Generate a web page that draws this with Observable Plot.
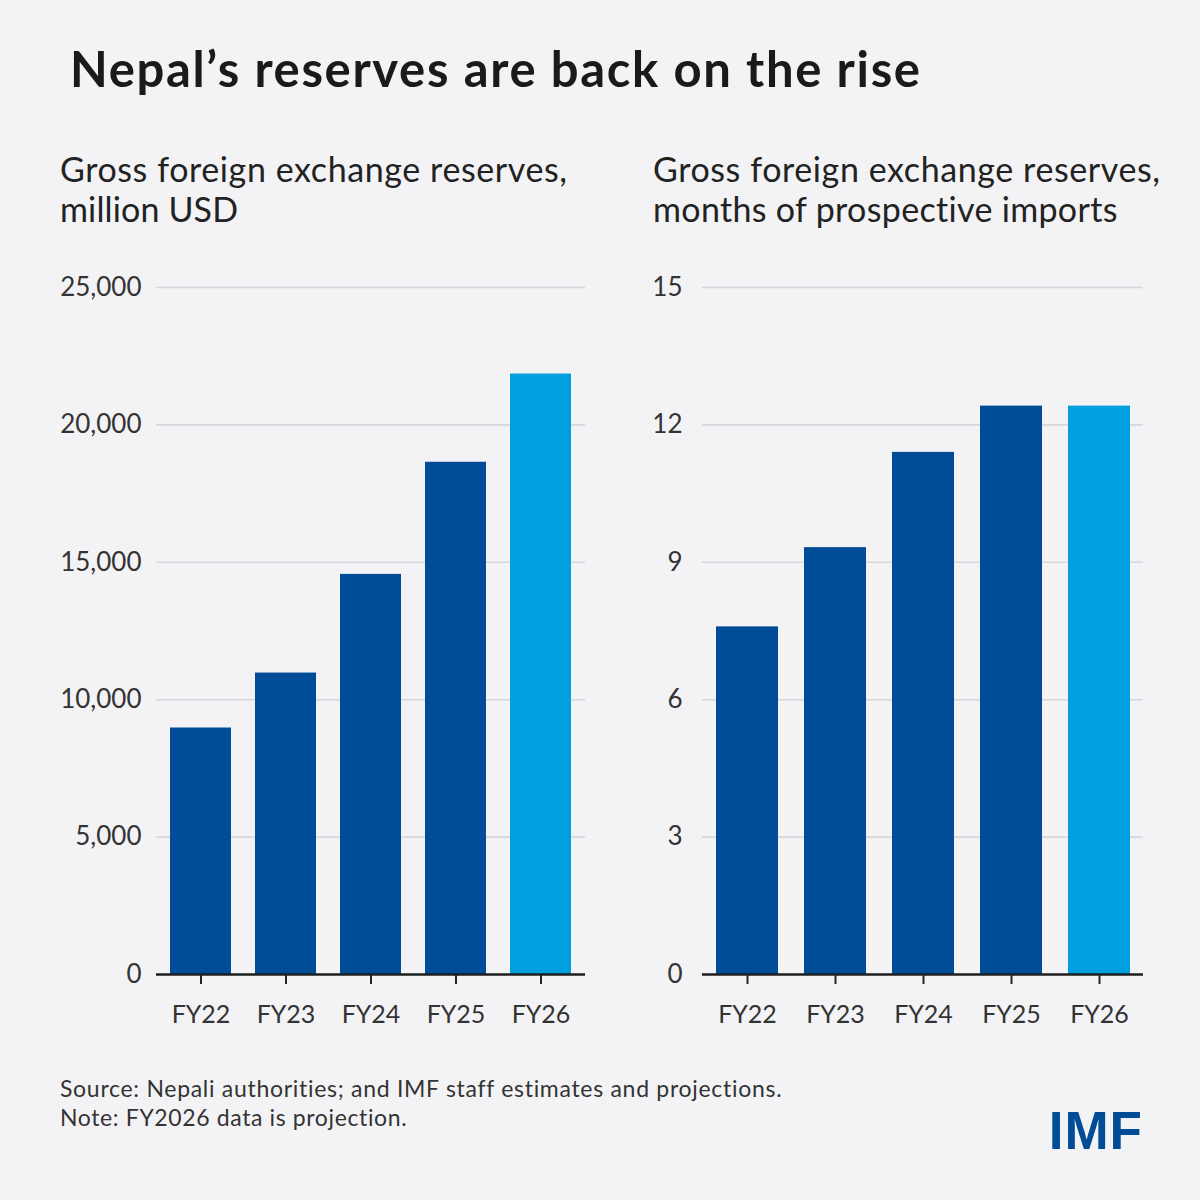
<!DOCTYPE html>
<html>
<head>
<meta charset="utf-8">
<script src="https://cdn.jsdelivr.net/npm/d3@7"></script>
<script src="https://cdn.jsdelivr.net/npm/@observablehq/plot@0.6"></script>
<style>
  html, body { margin: 0; padding: 0; background: #f3f3f6; }
  #page { position: relative; width: 1200px; height: 1200px; background: #f3f3f6; font-family: Lato, "Noto Sans", sans-serif; color: #222; overflow: hidden; }
  .abs { position: absolute; white-space: nowrap; }
  #title { left: 70px; top: 44px; font-size: 49px; line-height: 49px; font-weight: 700; color: #1a1a1a; }
  .sub { font-size: 34px; line-height: 40px; color: #222; }
  .foot { left: 60px; font-size: 23px; line-height: 29px; color: #333; }
  #logo { right: 57px; top: 1104px; font-family: "Liberation Sans", Arial, sans-serif; font-weight: 700; font-size: 53px; line-height: 53px; color: #004c97; letter-spacing: 1px; }
  .chart { position: absolute; top: 260px; }
</style>
</head>
<body>
<div id="page">
  <div id="title" class="abs" data-w="850">Nepal’s reserves are back on the rise</div>
  <div class="abs sub" style="left:60px; top:149px" data-w="507">Gross foreign exchange reserves,</div>
  <div class="abs sub" style="left:60px; top:189px" data-w="178">million USD</div>
  <div class="abs sub" style="left:653px; top:149px" data-w="507">Gross foreign exchange reserves,</div>
  <div class="abs sub" style="left:653px; top:189px" data-w="465">months of prospective imports</div>
  <div id="left" class="chart" style="left:0px"></div>
  <div id="right" class="chart" style="left:600px"></div>
  <div class="abs foot" style="top:1074px" data-w="722">Source: Nepali authorities; and IMF staff estimates and projections.</div>
  <div class="abs foot" style="top:1103px" data-w="347">Note: FY2026 data is projection.</div>
  <div id="logo" class="abs">IMF</div>
</div>
<script>
const years = ["FY22", "FY23", "FY24", "FY25", "FY26"];
const reservesUSD = [8970, 10970, 14560, 18640, 21850];
const reservesMonths = [7.59, 9.32, 11.40, 12.41, 12.41];
const kinds = ["actual", "actual", "actual", "actual", "projection"];
const ticksUSD = [0, 5000, 10000, 15000, 20000, 25000];
const ticksMonths = [0, 3, 6, 9, 12, 15];

const darkBlue = "#004c97";
const lightBlue = "#009fdf";

function makeChart(values, ticks, opts) {
  const data = years.map((y, i) => ({year: y, value: values[i], kind: kinds[i]}));
  return Plot.plot({
    width: 600,
    height: 790,
    marginLeft: opts.marginLeft,
    marginRight: opts.marginRight,
    marginTop: 27,
    marginBottom: 76,
    style: {background: "transparent", fontFamily: "Lato, 'Noto Sans', sans-serif", fontSize: "25px", color: "#333"},
    x: {domain: years, paddingInner: opts.padIn, paddingOuter: opts.padOut, label: null},
    y: {domain: [0, ticks[ticks.length - 1]], label: null},
    color: {domain: ["actual", "projection"], range: [darkBlue, lightBlue]},
    marks: [
      Plot.ruleY(ticks.filter(t => t > 0), {stroke: "#d6d6db", strokeWidth: 1.6}),
      Plot.barY(data, {x: "year", y: "value", fill: "kind"}),
      Plot.ruleY([0], {stroke: "#1e1e1e", strokeWidth: 2.5}),
      Plot.axisX({tickSize: 10, tickPadding: 21, stroke: "#222", strokeWidth: 2, fontSize: 25, label: null}),
      Plot.axisY({ticks: ticks, tickSize: 0, tickPadding: opts.yPad, tickFormat: opts.fmt, fontSize: 26, label: null})
    ]
  });
}

document.getElementById("left").appendChild(
  makeChart(reservesUSD, ticksUSD, {marginLeft: 156, marginRight: 15, padIn: 0.28, padOut: 0.148, yPad: 15, fmt: d3.format(",")})
);
document.getElementById("right").appendChild(
  makeChart(reservesMonths, ticksMonths, {marginLeft: 102, marginRight: 57, padIn: 0.30, padOut: 0.147, yPad: 20, fmt: d3.format("d")})
);

// stretch text lines to the reference widths with letter spacing
document.querySelectorAll("[data-w]").forEach(el => {
  const target = +el.dataset.w;
  el.style.letterSpacing = "0px";
  const w = el.getBoundingClientRect().width;
  const n = el.textContent.length;
  el.style.letterSpacing = ((target - w) / (n - 1)) + "px";
});
</script>
</body>
</html>
